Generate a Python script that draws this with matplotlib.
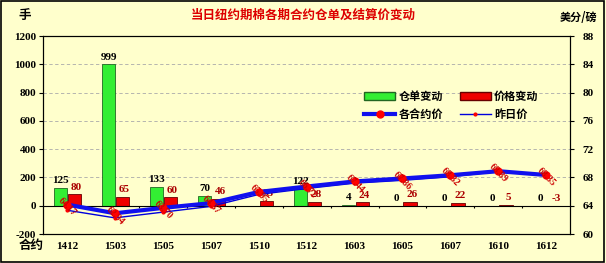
import matplotlib
matplotlib.use("Agg")
import matplotlib.pyplot as plt
import numpy as np
from matplotlib.lines import Line2D
from matplotlib.patches import Patch

plt.rcParams['font.family'] = ['Liberation Serif', 'Noto Sans CJK SC']

contracts = ["1412", "1503", "1505", "1507", "1510", "1512", "1603", "1605", "1607", "1610", "1612"]
stock_change = [125, 999, 133, 70, 0, 122, 4, 0, 0, 0, 0]
price_change = [80, 65, 60, 46, 35, 28, 24, 26, 22, 5, -3]
price_today = [64.17, 62.94, 63.70, 64.37, 65.95, 66.72, 67.44, 67.86, 68.32, 68.89, 68.35]
price_prev = [63.37, 62.29, 63.10, 63.91, 65.60, 66.44, 67.20, 67.60, 68.10, 68.84, 68.38]
price_text = ["64.17", "62.94", "63.70", "64.37", "65.95", "66.72", "67.44", "67.86", "68.32", "68.89", "68.35"]

bg = "#FFFFCC"
cjk = ['Noto Sans CJK SC']

fig = plt.figure(figsize=(6.06, 2.63), dpi=100, facecolor=bg)
fig.patches.append(plt.Rectangle((0.002, 0.004), 0.995, 0.992, transform=fig.transFigure,
                                 fill=False, edgecolor="black", lw=1.2))
ax = fig.add_axes([0.071, 0.110, 0.870, 0.753], facecolor=bg)

x = np.arange(len(contracts))
w = 0.28
ax.bar(x - 0.13, stock_change, w, color="#33EE33", edgecolor="#226622", lw=0.6, zorder=3)
ax.bar(x + 0.16, price_change, w, color="#EE0000", edgecolor="#660000", lw=0.6, zorder=3)

for i in range(len(contracts)):
    if i != 4:
        ax.annotate(str(stock_change[i]), (x[i] - 0.13, max(stock_change[i], 0)), xytext=(0, 2),
                    textcoords="offset points", ha="center", va="bottom", fontsize=8,
                    fontweight="bold", color="black", zorder=6)
    ax.annotate(str(price_change[i]), (x[i] + 0.2, max(price_change[i], 0)), xytext=(0, 2),
                textcoords="offset points", ha="center", va="bottom", fontsize=8,
                fontweight="bold", color="#AA0000", zorder=6)

ax.set_xlim(-0.5, len(contracts) - 0.5)
ax.set_ylim(-200, 1200)
ax.set_yticks(np.arange(-200, 1201, 200))
ax.set_yticklabels([str(v) for v in range(-200, 1201, 200)], fontsize=8, fontweight="bold")
for v in range(200, 1201, 200):
    ax.axhline(v, color="#AAAAAA", lw=0.6, ls=(0, (4, 3)), zorder=1)
ax.axhline(0, color="black", lw=0.8, zorder=4)
ax.vlines(x[:-1] + 0.5, -14, 0, color="black", lw=0.8, zorder=4)
ax.set_xticks(x)
ax.set_xticklabels(contracts, fontsize=8, fontweight="bold")
ax.tick_params(axis="x", length=0, pad=6)
ax.tick_params(axis="y", length=3, pad=2)

ax2 = ax.twinx()
ax2.set_ylim(60, 88)
ax2.set_yticks(np.arange(60, 89, 4))
ax2.set_yticklabels([str(v) for v in range(60, 89, 4)], fontsize=8, fontweight="bold")
ax2.tick_params(axis="y", length=3, pad=6)
ax2.plot(x, price_prev, color="#0000DD", lw=1, marker="o", ms=2, mfc="red", mec="red", zorder=4)
ax2.plot(x, price_today, color="#1010EE", lw=3, marker="o", ms=5, mfc="red", mec="red", zorder=5)
for i in range(len(contracts)):
    ax2.text(x[i], price_today[i] - 0.3, price_text[i], rotation=-45, ha="center", va="center",
             fontsize=7, color="#CC0000", fontweight="bold", zorder=7)

for a in (ax, ax2):
    for s in a.spines.values():
        s.set_color("black")
        s.set_linewidth(0.8)

# legend fills column by column, so order gives rows: stock/price change, then the two lines
handles = [Patch(facecolor="#33EE33", edgecolor="#226622"),
           Line2D([], [], color="#1010EE", lw=3, marker="o", ms=5, mfc="red", mec="red"),
           Patch(facecolor="#EE0000", edgecolor="#660000"),
           Line2D([], [], color="#0000DD", lw=1, marker="o", ms=2, mfc="red", mec="red")]
labels = ["仓单变动", "各合约价", "价格变动", "昨日价"]
ax2.legend(handles, labels, ncol=2, loc="upper left", bbox_to_anchor=(0.59, 0.78), frameon=False,
           prop={"family": cjk, "size": 8, "weight": "bold"}, handlelength=2.8,
           columnspacing=1.5, handletextpad=0.3, labelspacing=0.5)

fig.text(0.5, 0.94, "当日纽约期棉各期合约仓单及结算价变动", ha="center", va="center",
         color="#DD0000", fontsize=9, fontweight="bold", family=cjk)
fig.text(0.03, 0.94, "手", ha="left", va="center", fontsize=9, fontweight="bold", family=cjk)
fig.text(0.985, 0.935, "美分/磅", ha="right", va="center", fontsize=8, fontweight="bold", family=cjk)
fig.text(0.03, 0.065, "合约", ha="left", va="center", fontsize=9, fontweight="bold", family=cjk)

fig.savefig("out.png", dpi=100, facecolor=bg)
